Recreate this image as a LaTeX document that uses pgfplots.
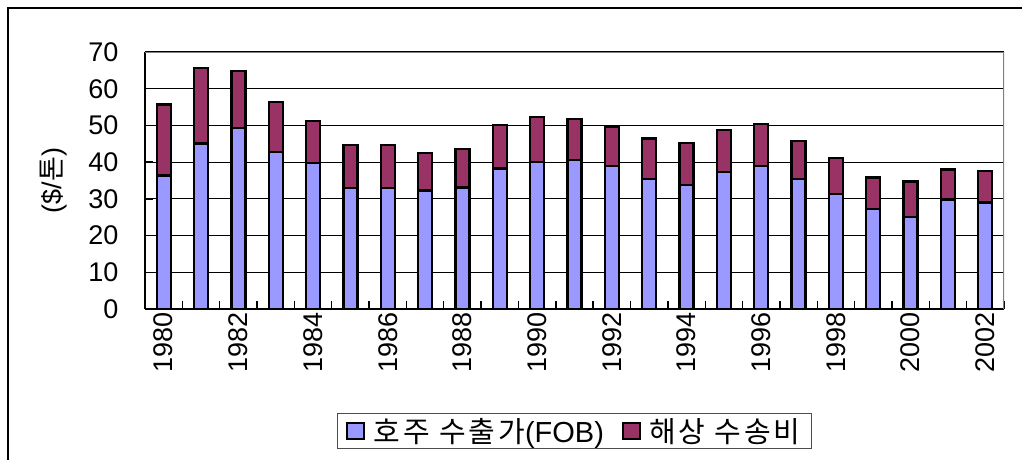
\documentclass[border=0pt]{standalone}
\usepackage{fontspec}
\setmainfont{Liberation Sans}
\newfontfamily\kr{Noto Sans CJK KR}
\newfontfamily\krl{Noto Sans CJK KR}[LetterSpace=10.0]
\usepackage{pgfplots}
\pgfplotsset{compat=1.18}
\usepackage{pgfplotstable}

\definecolor{fobcol}{HTML}{9999FF}
\definecolor{frtcol}{HTML}{993366}
\newcommand\fs{\fontsize{27}{32}\selectfont}
\newcommand\lfs{\fontsize{29}{34}\selectfont}

% Australian export price (FOB) and sea freight, $/ton
\pgfplotstableread{
idx year fob freight
0  1980 36.4 19.3
1  1981 45.1 20.5
2  1982 49.3 15.5
3  1983 42.8 13.6
4  1984 39.7 11.5
5  1985 33.0 11.6
6  1986 33.0 11.6
7  1987 32.3 10.1
8  1988 33.1 10.4
9  1989 38.3 11.8
10 1990 40.0 12.3
11 1991 40.6 11.1
12 1992 39.0 10.5
13 1993 35.4 11.0
14 1994 33.7 11.5
15 1995 37.3 11.5
16 1996 39.0 11.4
17 1997 35.5 10.3
18 1998 31.4 9.7
19 1999 27.3 8.5
20 2000 25.1 9.6
21 2001 29.8 8.2
22 2002 29.0 8.6
}\datatable

\begin{document}
\begin{tikzpicture}
\draw[line width=1.8pt] (8pt,-10pt) -- (8pt,451pt) -- (1040pt,451pt);
\begin{axis}[
    at={(145pt,150pt)}, anchor=south west,
    scale only axis,
    width=859pt, height=257pt,
    ybar stacked,
    bar width=14pt,
    xmin=-0.5, xmax=22.5,
    ymin=0, ymax=70,
    axis x line*=bottom, axis y line*=left,
    axis line style={line width=1.6pt, black, -},
    xtick={0,2,...,22},
    xticklabels={1980,1982,1984,1986,1988,1990,1992,1994,1996,1998,2000,2002},
    minor xtick={-0.5,0.5,...,22.5},
    major x tick style={draw=none},
    ytick={0,10,...,70},
    ymajorgrids,
    grid style={black, line width=1.1pt},
    tick align=inside,
    major tick length=8pt, minor tick length=8pt,
    tick style={black, line width=1.4pt},
    /pgf/number format/assume math mode=true,
    tick label style={font=\fs},
    xticklabel style={rotate=90, anchor=east},
    yticklabel style={xshift=-23pt},
    ylabel={(\$/{\kr 톤})},
    every axis y label/.style={at={(axis description cs:-0.107,0.5)}, rotate=90, anchor=center, font=\fs},
    legend columns=2,
    legend style={at={(axis description cs:0.5,-0.475)}, anchor=center,
        draw=black!70, line width=1pt, font=\lfs, inner xsep=9pt, inner ysep=3pt,
        /tikz/every even column/.append style={column sep=16pt}},
    legend image code/.code={\draw[#1, line width=1.8pt] (0pt,-8pt) rectangle (17pt,8pt);
        \path (23pt,0pt);},
]
\addplot[fill=fobcol, draw=black, line width=2.3pt] table[x=idx, y=fob] {\datatable};
\addplot[fill=frtcol, draw=black, line width=2.3pt] table[x=idx, y=freight] {\datatable};
\legend{{\krl 호주 수출가}(FOB), {\krl 해상 수송비}}
\draw[black!50, line width=1.4pt] (rel axis cs:0,1) -- (rel axis cs:1,1) -- (rel axis cs:1,0);
\end{axis}
\pgfresetboundingbox
\useasboundingbox (0pt,0pt) rectangle (1022pt,459pt);
\end{tikzpicture}
\end{document}
